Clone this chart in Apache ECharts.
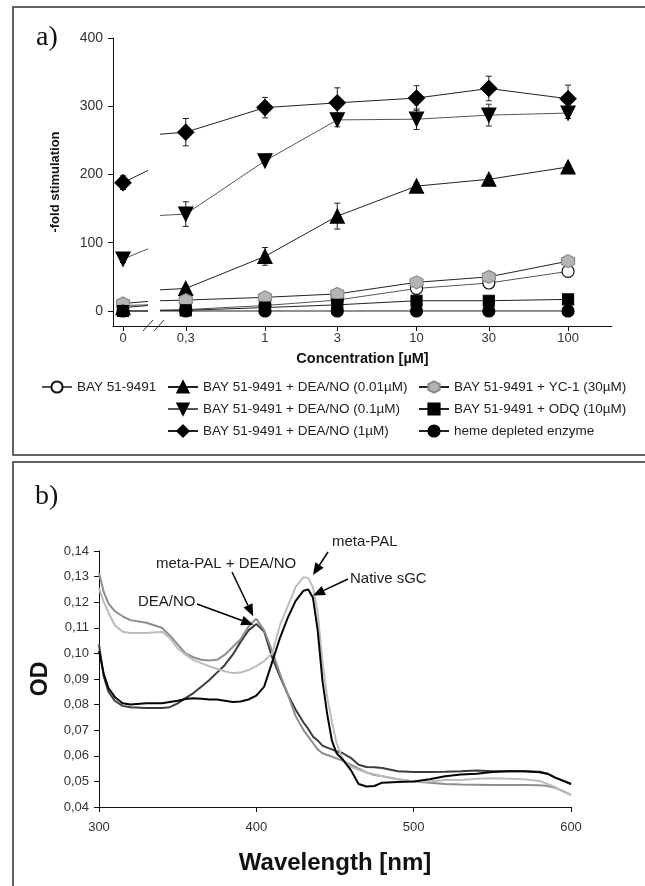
<!DOCTYPE html>
<html>
<head>
<meta charset="utf-8">
<script src="https://cdn.jsdelivr.net/npm/echarts@6/dist/echarts.min.js"></script>
<style>
  html, body { margin: 0; padding: 0; background: #fff; }
  #chart { width: 645px; height: 886px; }
</style>
</head>
<body>
<div id="chart"></div>
<script>
// ---- panel a: fold stimulation vs concentration ----
const concentrations = [0, 0.3, 1, 3, 10, 30, 100];
const concLabels = ['0', '0,3', '1', '3', '10', '30', '100'];
const yTicksA = [0, 100, 200, 300, 400];

const bayAlone    = [8, 2, 8, 16, 33, 41, 58];
const bayDea001   = [5, 33, 80, 139, 183, 193, 211];
const bayDea01    = [76, 142, 220, 280, 281, 287, 290];
const bayDea1     = [188, 262, 298, 305, 312, 326, 311];
const bayYc1      = [11, 16, 20, 25, 42, 50, 73];
const bayOdq      = [0, 1, 5, 9, 15, 15, 17];
const hemeFree    = [0, 0, 0, 0, 0, 0, 0];

const errAlone  = [2, 2, 2, 2, 3, 4, 8];
const errDea001 = [3, 4, 13, 19, 5, 5, 4];
const errDea01  = [5, 18, 4, 10, 15, 16, 8];
const errDea1   = [10, 20, 15, 22, 18, 18, 20];
const errYc1    = [3, 3, 3, 3, 3, 3, 4];
const errOdq    = [1, 1, 2, 3, 5, 5, 4];
const errHeme   = [1, 1, 1, 1, 1, 1, 1];

// line pieces either side of the axis break
const stubLeft  = { alone: 9, dea001: 8, dea01: 91, dea1: 206, yc1: 14, odq: 0, heme: 0 };
const stubRight = { alone: 1, dea001: 31, dea01: 140, dea1: 259, yc1: 15, odq: 1, heme: 0 };

// ---- panel b: spectra ----
const wavelengths = [300, 303, 306, 310, 315, 320, 330, 340, 345, 350, 355, 360, 365, 370, 375, 380, 385, 390, 395, 400,
  405, 410, 415, 420, 425, 430, 433, 436, 439, 442, 445, 448, 451, 455, 460, 465, 470, 475, 480, 490,
  500, 510, 520, 530, 540, 550, 560, 570, 580, 585, 590, 595, 600];
const odDeaNo = [0.1035, 0.091, 0.085, 0.0815, 0.0795, 0.079, 0.0787, 0.0787, 0.079, 0.0805, 0.0825, 0.0845, 0.087, 0.0895, 0.0925, 0.0955, 0.0995, 0.1045, 0.109, 0.1115,
  0.1085, 0.0985, 0.091, 0.084, 0.078, 0.073, 0.0705, 0.0675, 0.066, 0.064, 0.0632, 0.0625, 0.0618, 0.061, 0.0592, 0.0565, 0.0556, 0.0555, 0.0552, 0.054,
  0.0537, 0.0537, 0.0538, 0.054, 0.0543, 0.054, 0.054, 0.054, 0.0538, 0.053, 0.0515, 0.0503, 0.049];
const odNative = [0.101, 0.092, 0.0865, 0.083, 0.0805, 0.080, 0.0805, 0.0805, 0.081, 0.0815, 0.0822, 0.0825, 0.0823, 0.082, 0.082, 0.0815, 0.081, 0.0812, 0.082, 0.0835,
  0.087, 0.0965, 0.106, 0.114, 0.1205, 0.1245, 0.125, 0.1217, 0.109, 0.0895, 0.0765, 0.066, 0.061, 0.0585, 0.0545, 0.049, 0.048, 0.0482, 0.0495, 0.0498,
  0.050, 0.0508, 0.052, 0.0527, 0.053, 0.0537, 0.054, 0.054, 0.0536, 0.053, 0.0515, 0.0502, 0.049];
const odMetaPal = [0.1255, 0.120, 0.116, 0.111, 0.1085, 0.108, 0.108, 0.1085, 0.106, 0.102, 0.0995, 0.0975, 0.0962, 0.095, 0.094, 0.093, 0.0923, 0.0925, 0.0935, 0.095,
  0.097, 0.100, 0.111, 0.1185, 0.126, 0.1298, 0.1295, 0.1258, 0.116, 0.0967, 0.083, 0.0735, 0.065, 0.0585, 0.0557, 0.0545, 0.0535, 0.0528, 0.052, 0.0508,
  0.050, 0.050, 0.0505, 0.0505, 0.051, 0.0512, 0.051, 0.0508, 0.0502, 0.049, 0.0478, 0.046, 0.0447];
const odMetaPalDea = [0.1314, 0.124, 0.1195, 0.1165, 0.1145, 0.113, 0.112, 0.110, 0.107, 0.1035, 0.100, 0.0985, 0.0975, 0.0972, 0.0975, 0.0995, 0.1025, 0.1055, 0.1105, 0.1135,
  0.109, 0.101, 0.092, 0.084, 0.0755, 0.070, 0.0675, 0.065, 0.0625, 0.061, 0.0603, 0.0597, 0.059, 0.058, 0.0565, 0.055, 0.0535, 0.0525, 0.052, 0.0508,
  0.050, 0.0495, 0.049, 0.0488, 0.0487, 0.0486, 0.0486, 0.0486, 0.0485, 0.0482, 0.0475, 0.0462, 0.0447];

const FONT = '"Liberation Sans", Arial, sans-serif';
const ZERO_POS = -0.937;   // where "0" sits on the log axis
const STUB_L = -0.772;
const STUB_R = -0.693;
const xPos = c => (c === 0 ? ZERO_POS : Math.log10(c));

const HEX = 'path://M10,0 L18.66,5 L18.66,15 L10,20 L1.34,15 L1.34,5 Z';
const TRI_DOWN = 'path://M0,0 L20,0 L10,18 Z';

const setsA = [
  { key: 'alone', name: 'BAY 51-9491', vals: bayAlone, err: errAlone, symbol: 'circle', size: 12, fill: '#fff', border: '#111', line: '#555' },
  { key: 'dea001', name: 'BAY 51-9491 + DEA/NO (0.01µM)', vals: bayDea001, err: errDea001, symbol: 'triangle', size: 14, fill: '#000', border: '#000', line: '#222' },
  { key: 'dea01', name: 'BAY 51-9491 + DEA/NO (0.1µM)', vals: bayDea01, err: errDea01, symbol: TRI_DOWN, size: 14, fill: '#000', border: '#000', line: '#555' },
  { key: 'dea1', name: 'BAY 51-9491 + DEA/NO (1µM)', vals: bayDea1, err: errDea1, symbol: 'diamond', size: 16, fill: '#000', border: '#000', line: '#222' },
  { key: 'yc1', name: 'BAY 51-9491 + YC-1 (30µM)', vals: bayYc1, err: errYc1, symbol: HEX, size: 13, fill: '#b4b4b4', border: '#8a8a8a', line: '#222' },
  { key: 'odq', name: 'BAY 51-9491 + ODQ (10µM)', vals: bayOdq, err: errOdq, symbol: 'rect', size: 11, fill: '#000', border: '#000', line: '#222' },
  { key: 'heme', name: 'heme depleted enzyme', vals: hemeFree, err: errHeme, symbol: 'circle', size: 12, fill: '#000', border: '#000', line: '#222' }
];

function lineData(s) {
  const pts = [[xPos(0), s.vals[0]]];
  pts.push({ value: [STUB_L, stubLeft[s.key]], symbol: 'none' });
  pts.push([STUB_L, '-']);
  pts.push({ value: [STUB_R, stubRight[s.key]], symbol: 'none' });
  for (let i = 1; i < s.vals.length; i++) pts.push([xPos(concentrations[i]), s.vals[i]]);
  return pts;
}

const errData = [];
setsA.forEach(s => {
  s.vals.forEach((v, i) => errData.push([xPos(concentrations[i]), v - s.err[i], v + s.err[i]]));
});

const seriesA = setsA.map(s => ({
  name: s.name,
  type: 'line',
  xAxisIndex: 0, yAxisIndex: 0,
  data: lineData(s),
  symbol: s.symbol,
  symbolSize: s.size,
  showAllSymbol: true,
  connectNulls: false,
  itemStyle: { color: s.fill, borderColor: s.border, borderWidth: 1.2 },
  lineStyle: { color: s.line, width: 1 },
  emphasis: { disabled: true },
  z: 3
}));

const errSeries = {
  type: 'custom',
  xAxisIndex: 0, yAxisIndex: 0,
  data: errData,
  encode: { x: 0, y: [1, 2] },
  z: 2,
  silent: true,
  renderItem(params, api) {
    const x = api.value(0);
    const top = api.coord([x, api.value(2)]);
    const bot = api.coord([x, api.value(1)]);
    const w = 3;
    const st = { stroke: '#222', lineWidth: 1 };
    return {
      type: 'group',
      children: [
        { type: 'line', shape: { x1: top[0], y1: top[1], x2: bot[0], y2: bot[1] }, style: st },
        { type: 'line', shape: { x1: top[0] - w, y1: top[1], x2: top[0] + w, y2: top[1] }, style: st },
        { type: 'line', shape: { x1: bot[0] - w, y1: bot[1], x2: bot[0] + w, y2: bot[1] }, style: st }
      ]
    };
  }
};

const spectra = [
  { name: 'DEA/NO', vals: odDeaNo, color: '#3c3c3c' },
  { name: 'meta-PAL + DEA/NO', vals: odMetaPalDea, color: '#8e8e8e' },
  { name: 'meta-PAL', vals: odMetaPal, color: '#bdbdbd' },
  { name: 'Native sGC', vals: odNative, color: '#050505' }
];
const seriesB = spectra.map(s => ({
  name: s.name,
  type: 'line',
  xAxisIndex: 1, yAxisIndex: 1,
  data: wavelengths.map((w, i) => [w, s.vals[i]]),
  showSymbol: false,
  lineStyle: { color: s.color, width: 2 },
  emphasis: { disabled: true }
}));

const axisLine = { show: true, onZero: false, lineStyle: { color: '#111', width: 1 } };
const tickLabel = { color: '#333', fontFamily: FONT, fontSize: 13 };
const legendText = { color: '#222', fontFamily: FONT, fontSize: 13.5 };
const legendBase = { top: 380, padding: 0, itemWidth: 30, itemHeight: 14, itemGap: 8, selectedMode: false, textStyle: legendText };

const chart = echarts.init(document.getElementById('chart'));
chart.setOption({
  animation: false,
  backgroundColor: '#fff',
  grid: [
    { left: 113, right: 33, top: 38, bottom: 560 },
    { left: 99, right: 74, top: 551, bottom: 79 }
  ],
  xAxis: [
    {
      gridIndex: 0, type: 'value', min: -1.003, max: 2.29,
      name: 'Concentration [µM]', nameLocation: 'middle', nameGap: 25,
      nameTextStyle: { fontFamily: FONT, fontSize: 14.5, fontWeight: 'bold', color: '#111' },
      axisLine: axisLine,
      axisTick: { show: true, length: 5, customValues: concentrations.map(xPos), lineStyle: { color: '#111' } },
      axisLabel: {
        ...tickLabel, margin: 6,
        customValues: concentrations.map(xPos),
        formatter: v => {
          let best = 0;
          concentrations.forEach((c, i) => { if (Math.abs(xPos(c) - v) < Math.abs(xPos(concentrations[best]) - v)) best = i; });
          return concLabels[best];
        }
      },
      splitLine: { show: false }
    },
    {
      gridIndex: 1, type: 'value', min: 300, max: 600, interval: 100,
      name: 'Wavelength [nm]', nameLocation: 'middle', nameGap: 44,
      nameTextStyle: { fontFamily: FONT, fontSize: 24, fontWeight: 'bold', color: '#111' },
      axisLine: axisLine,
      axisTick: { show: true, length: 5, lineStyle: { color: '#111' } },
      axisLabel: { ...tickLabel, margin: 14 },
      splitLine: { show: false }
    }
  ],
  yAxis: [
    {
      gridIndex: 0, type: 'value', min: -22, max: 400,
      name: '-fold stimulation', nameLocation: 'middle', nameGap: 51,
      nameTextStyle: { fontFamily: FONT, fontSize: 13, fontWeight: 'bold', color: '#111' },
      axisLine: axisLine,
      axisTick: { show: true, length: 5, customValues: yTicksA, lineStyle: { color: '#111' } },
      axisLabel: { ...tickLabel, fontSize: 14, margin: 10, customValues: yTicksA },
      splitLine: { show: false }
    },
    {
      gridIndex: 1, type: 'value', min: 0.04, max: 0.14, interval: 0.01,
      name: 'OD', nameLocation: 'middle', nameGap: 47,
      nameTextStyle: { fontFamily: FONT, fontSize: 23, fontWeight: 'bold', color: '#111' },
      axisLine: axisLine,
      axisTick: { show: true, length: 5, lineStyle: { color: '#111' } },
      axisLabel: { ...tickLabel, fontSize: 13, margin: 10, formatter: v => v.toFixed(2).replace('.', ',') },
      splitLine: { show: false }
    }
  ],
  legend: [
    { ...legendBase, left: 41, data: [setsA[0].name] },
    { ...legendBase, left: 167, orient: 'vertical', data: [setsA[1].name, setsA[2].name, setsA[3].name] },
    { ...legendBase, left: 418, orient: 'vertical', data: [setsA[4].name, setsA[5].name, setsA[6].name] }
  ],
  series: [errSeries, ...seriesA, ...seriesB]
});

// annotations for panel b: label position (px), arrow tail (px), arrow tip (data)
const notes = [
  { text: 'meta-PAL', at: [332, 542], tail: [328, 552], tip: [436, 0.1306] },
  { text: 'meta-PAL + DEA/NO', at: [156, 564], tail: [232, 572], tip: [398, 0.1145] },
  { text: 'Native sGC', at: [350, 579], tail: [348, 579], tip: [436, 0.1226] },
  { text: 'DEA/NO', at: [138, 602], tail: [197, 604], tip: [398, 0.1112] }
];

const graphics = [
  { type: 'rect', shape: { x: 13, y: 7, width: 660, height: 448 }, style: { fill: 'none', stroke: '#333', lineWidth: 1.5 }, z: 0 },
  { type: 'rect', shape: { x: 13, y: 462, width: 660, height: 450 }, style: { fill: 'none', stroke: '#333', lineWidth: 1.5 }, z: 0 },
  { type: 'text', x: 36, y: 38, style: { text: 'a)', font: '28px "Liberation Serif", serif', fill: '#111', verticalAlign: 'middle' } },
  { type: 'text', x: 35, y: 497, style: { text: 'b)', font: '28px "Liberation Serif", serif', fill: '#111', verticalAlign: 'middle' } },
  // axis break marks
  { type: 'line', shape: { x1: 143, y1: 331, x2: 153, y2: 320 }, style: { stroke: '#333', lineWidth: 1 }, z: 10 },
  { type: 'line', shape: { x1: 154, y1: 331, x2: 164, y2: 320 }, style: { stroke: '#333', lineWidth: 1 }, z: 10 }
];

notes.forEach(n => {
  const tip = chart.convertToPixel({ xAxisIndex: 1, yAxisIndex: 1 }, n.tip);
  const dx = tip[0] - n.tail[0], dy = tip[1] - n.tail[1];
  const len = Math.sqrt(dx * dx + dy * dy);
  const ux = dx / len, uy = dy / len;
  const hl = 12, hw = 5;
  const bx = tip[0] - ux * hl, by = tip[1] - uy * hl;
  graphics.push({ type: 'text', x: n.at[0], y: n.at[1], style: { text: n.text, font: '15px ' + FONT, fill: '#222', verticalAlign: 'middle' }, z: 10 });
  graphics.push({ type: 'line', shape: { x1: n.tail[0], y1: n.tail[1], x2: bx, y2: by }, style: { stroke: '#000', lineWidth: 1.5 }, z: 10 });
  graphics.push({ type: 'polygon', shape: { points: [tip, [bx - uy * hw, by + ux * hw], [bx + uy * hw, by - ux * hw]] }, style: { fill: '#000' }, z: 10 });
});

chart.setOption({ graphic: graphics });
</script>
</body>
</html>
